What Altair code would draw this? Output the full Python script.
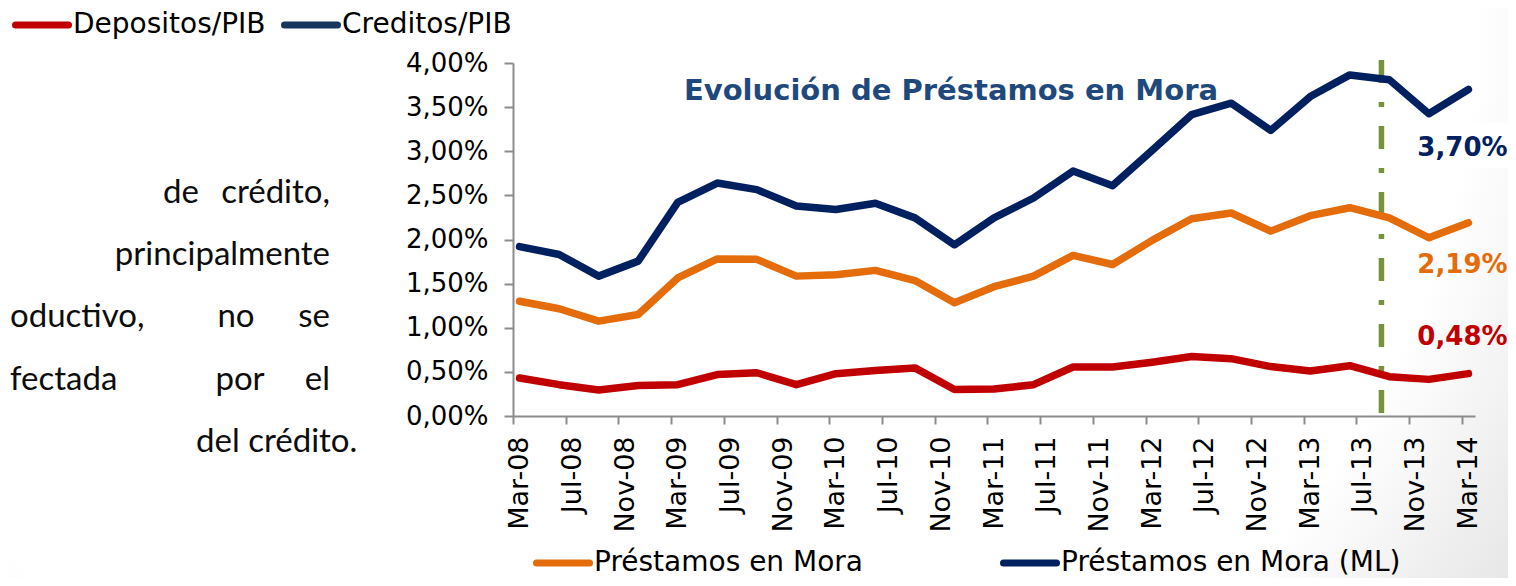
import json
import altair as alt
import pandas as pd

# ---------------- data ----------------
trimestres = ["Mar-08", "Jun-08", "Sep-08", "Dec-08",
              "Mar-09", "Jun-09", "Sep-09", "Dec-09",
              "Mar-10", "Jun-10", "Sep-10", "Dec-10",
              "Mar-11", "Jun-11", "Sep-11", "Dec-11",
              "Mar-12", "Jun-12", "Sep-12", "Dec-12",
              "Mar-13", "Jun-13", "Sep-13", "Dec-13",
              "Mar-14"]

prestamos_mora_ml = [1.92, 1.83, 1.585, 1.755, 2.42, 2.64, 2.565, 2.38, 2.34, 2.41,
                     2.245, 1.94, 2.245, 2.47, 2.775, 2.61, 3.01, 3.415, 3.545, 3.235,
                     3.62, 3.865, 3.81, 3.425, 3.70]
prestamos_mora = [1.30, 1.215, 1.075, 1.15, 1.565, 1.78, 1.775, 1.585, 1.60, 1.65,
                  1.535, 1.283, 1.465, 1.585, 1.82, 1.717, 1.99, 2.235, 2.30, 2.095,
                  2.27, 2.36, 2.245, 2.02, 2.19]
prestamos_mora_me = [0.43, 0.355, 0.295, 0.345, 0.355, 0.47, 0.49, 0.355, 0.48, 0.515,
                     0.545, 0.30, 0.305, 0.355, 0.555, 0.555, 0.61, 0.675, 0.65, 0.56,
                     0.51, 0.57, 0.445, 0.415, 0.48]

etiquetas_x = ["Mar-08", "Jul-08", "Nov-08", "Mar-09", "Jul-09", "Nov-09", "Mar-10",
               "Jul-10", "Nov-10", "Mar-11", "Jul-11", "Nov-11", "Mar-12", "Jul-12",
               "Nov-12", "Mar-13", "Jul-13", "Nov-13", "Mar-14"]
valores_y = [0, 0.5, 1.0, 1.5, 2.0, 2.5, 3.0, 3.5, 4.0]

series = ["Préstamos en Mora (ML)", "Préstamos en Mora", "Préstamos en Mora (ME)"]
colores = ["#002060", "#E46C0A", "#C00000"]

corte = "Aug-13"  # vertical reference line

titulo = "Evolución de Préstamos en Mora"
leyenda_sup = ["Depositos/PIB", "Creditos/PIB"]
leyenda_sup_colores = ["#C00000", "#17375E"]

# ---------------- helpers ----------------
MESES = {"Jan": 0, "Feb": 1, "Mar": 2, "Apr": 3, "May": 4, "Jun": 5, "Jul": 6,
         "Aug": 7, "Sep": 8, "Oct": 9, "Nov": 10, "Dec": 11}


def mes_idx(lbl):
    m, y = lbl.split("-")
    return (2000 + int(y) - 2008) * 12 + MESES[m] - 2


rows = []
for s, vals in zip(series, [prestamos_mora_ml, prestamos_mora, prestamos_mora_me]):
    for t, v in zip(trimestres, vals):
        rows.append({"serie": s, "trimestre": t, "mes": mes_idx(t), "valor": v})
df = pd.DataFrame(rows)

ticks_x = [mes_idx(l) for l in etiquetas_x]
n_meses = mes_idx(trimestres[-1]) + 1

W, H = 962, 353
PL, PT, PR, PB = 505, 55, 33, 162
X0, Y0 = 8 + PL, 8 + PT
SLOT = W / n_meses


def px(x):
    return x - X0


def py(y):
    return y - Y0


one = pd.DataFrame({"k": [0]})
FONT = "DejaVu Sans"

x_scale = alt.Scale(domain=[-0.5, n_meses - 0.5], nice=False, zero=False)
y_scale = alt.Scale(domain=[0, 4], nice=False, zero=True)
color_scale = alt.Scale(domain=series, range=colores)

label_expr = json.dumps(etiquetas_x) + "[round(datum.value / 4)]"

# background gradient
fondo = alt.Chart(one).mark_rect(
    fill={"gradient": "radial", "x1": 0.42, "y1": 0.3, "r1": 0,
          "x2": 0.42, "y2": 0.3, "r2": 0.85,
          "stops": [{"offset": 0, "color": "#ffffff"},
                    {"offset": 0.66, "color": "#ffffff"},
                    {"offset": 1, "color": "#cccccc"}]},
).encode(x=alt.value(-PL), x2=alt.value(W + PR), y=alt.value(-PT), y2=alt.value(H + PB))

caja = alt.Chart(one).mark_rect(fill="white").encode(
    x=alt.value(px(1408)), x2=alt.value(W + PR), y=alt.value(py(123)), y2=alt.value(py(168)))

lineas = alt.Chart(df).mark_line(strokeWidth=7.5, strokeCap="round", strokeJoin="round").encode(
    x=alt.X("mes:Q", scale=x_scale,
            axis=alt.Axis(values=ticks_x, labelExpr=label_expr, title=None, labelAngle=-90,
                          labelFont=FONT, labelFontSize=27, labelColor="#000000",
                          domainColor="#8c8c8c", domainWidth=2, tickColor="#8c8c8c",
                          tickWidth=2, tickSize=8, tickOffset=-SLOT / 2, labelOffset=SLOT / 2,
                          labelPadding=12, grid=False, zindex=1, labelFlush=False,
                          labelOverlap=False, labelBound=False)),
    y=alt.Y("valor:Q", scale=y_scale,
            axis=alt.Axis(values=valores_y,
                          labelExpr="replace(format(datum.value, '.2f'), '.', ',') + '%'",
                          title=None, labelFont=FONT, labelFontSize=26, labelColor="#000000",
                          domainColor="#8c8c8c", domainWidth=2, tickColor="#8c8c8c",
                          tickWidth=2, tickSize=9, labelPadding=16, grid=False, zindex=1,
                          labelFlush=False, labelOverlap=False, labelBound=False)),
    color=alt.Color("serie:N", scale=color_scale, legend=None),
    detail="serie:N",
)

corte_df = pd.DataFrame({"mes": [mes_idx(corte) + 0.4]})
linea_corte = alt.Chart(corte_df).mark_rule(
    color="#77933C", strokeWidth=5.5, strokeDash=[23, 19, 5, 19]
).encode(x=alt.X("mes:Q", scale=x_scale), y=alt.value(-3), y2=alt.value(350))

ultimo = df[df["mes"] == df["mes"].max()]
etq_expr = "replace(format(datum.valor, '.2f'), '.', ',') + '%'"


def etiqueta(serie, dy):
    return alt.Chart(ultimo[ultimo["serie"] == serie]).transform_calculate(
        txt=etq_expr
    ).mark_text(font=FONT, fontWeight="bold", fontSize=26, dx=-6, dy=dy,
                align="center", baseline="middle").encode(
        x=alt.X("mes:Q", scale=x_scale), y=alt.Y("valor:Q", scale=y_scale),
        text="txt:N", color=alt.Color("serie:N", scale=color_scale, legend=None))


etq_ml = etiqueta(series[0], 59)
etq_mora = etiqueta(series[1], 42)
etq_me = etiqueta(series[2], -37)

title_mark = alt.Chart(one).mark_text(
    text=titulo, font=FONT, fontWeight="bold", fontSize=29, color="#1F497D",
    align="center", baseline="middle").encode(x=alt.value(px(951)), y=alt.value(py(91)))

capas = [fondo, caja, linea_corte, lineas, etq_ml, etq_mora, etq_me, title_mark]


def leyenda(x1, x2, y, color, texto, size):
    r = alt.Chart(one).mark_rule(strokeWidth=7, strokeCap="round", color=color).encode(
        x=alt.value(px(x1 + 3.5)), x2=alt.value(px(x2 - 3.5)), y=alt.value(py(y)))
    t = alt.Chart(one).mark_text(text=texto, font=FONT, fontSize=size, color="#000000",
                                 align="left", baseline="middle").encode(
        x=alt.value(px(x2 + 1)), y=alt.value(py(y)))
    return [r, t]


capas += leyenda(12, 72, 25, leyenda_sup_colores[0], leyenda_sup[0], 28)
capas += leyenda(281, 341, 25, leyenda_sup_colores[1], leyenda_sup[1], 28)
capas += leyenda(533, 593, 563, colores[1], series[1], 28)
capas += leyenda(1000, 1060, 563, colores[0], series[0], 28)

# left paragraph (cropped slide text, justified)
TFONT = "Lato"
TSIZE = 33


def palabra(texto, x, y, align):
    return alt.Chart(one).mark_text(text=texto, font=TFONT, fontSize=TSIZE, color="#0d0d0d",
                                    align=align, baseline="middle").encode(
        x=alt.value(px(x)), y=alt.value(py(y)))


capas += [
    palabra("de", 163, 193, "left"),
    palabra("crédito,", 330, 193, "right"),
    palabra("principalmente", 330, 255, "right"),
    palabra("oductivo,", 10, 317, "left"),
    palabra("no", 236, 317, "center"),
    palabra("se", 330, 317, "right"),
    palabra("fectada", 10, 380, "left"),
    palabra("por", 240, 380, "center"),
    palabra("el", 330, 380, "right"),
    palabra("del crédito.", 196, 442, "left"),
]

chart = alt.layer(*capas).properties(
    width=W, height=H,
    padding={"left": PL, "top": PT, "right": PR, "bottom": PB},
    autosize=alt.AutoSizeParams(type="none"),
).configure_view(stroke=None)

chart.save("out.html", embed_options={"renderer": "svg", "actions": False})
